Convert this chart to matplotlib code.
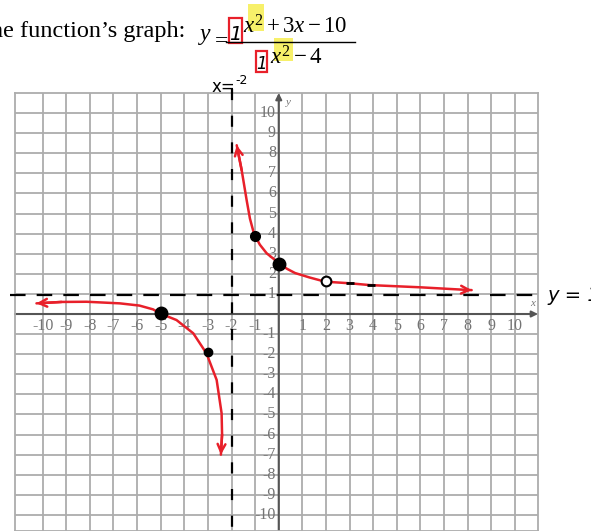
import numpy as np
import matplotlib.pyplot as plt
from matplotlib.patches import Rectangle

plt.rcParams['mathtext.fontset'] = 'custom'
plt.rcParams['mathtext.rm'] = 'Liberation Serif'
plt.rcParams['mathtext.it'] = 'Liberation Serif:italic'

W, H = 591, 531

# hand-drawn branches of y = (x^2+3x-10)/(x^2-4)
right_x = [-1.78, -1.57, -1.36, -1.22, -1.05, -0.8, -0.51, 0.0, 0.35, 0.69, 1.3, 1.96, 3.0, 3.85, 5.98, 7.96, 8.17]
right_y = [8.4, 7.16, 5.67, 4.75, 4.0, 3.45, 3.02, 2.54, 2.25, 2.04, 1.82, 1.61, 1.53, 1.44, 1.33, 1.2, 1.19]
left_x = [-10.26, -9.2, -8.14, -6.73, -5.9, -5.32, -5.03, -4.33, -3.62, -3.06, -2.63, -2.42, -2.4, -2.45]
left_y = [0.53, 0.6, 0.61, 0.53, 0.42, 0.23, 0.03, -0.3, -0.96, -1.96, -3.28, -4.94, -6.0, -7.0]

# plotted points
dot_x = [-5, 0, -1, -3]
dot_y = [0.03, 2.5, 3.9, -1.9]
dot_size = [9, 9, 7, 6]
hole_x, hole_y = 2.0, 1.62
tick_x = [3, 3.9]
tick_y = [1.55, 1.46]

asym_x = -2
asym_y = 1

x_labels = [i for i in range(-10, 11) if i != 0]
y_labels = [i for i in range(-10, 11) if i != 0]

red = '#e8202a'
grey = '#adadad'


def px(x, y):
    return x / W, 1 - y / H


fig = plt.figure(figsize=(W / 100, H / 100), dpi=100)
ax = fig.add_axes([15 / W, 0, (538 - 15) / W, (531 - 93) / H])
ax.set_xlim(-11.17, 10.98)
ax.set_ylim(-10.8, 11.0)

# grid
for i in range(-10, 11):
    ax.axvline(i, color=grey, lw=1.3, zorder=0)
    ax.axhline(i, color=grey, lw=1.3, zorder=0)
for s in ax.spines.values():
    s.set_color(grey)
    s.set_linewidth(1.3)
ax.set_xticks([])
ax.set_yticks([])

# axes with arrows
ax.annotate('', xy=(10.98, 0), xytext=(-11.17, 0),
            arrowprops=dict(arrowstyle='-|>', color='#555555', lw=1.5, mutation_scale=9,
                            shrinkA=0, shrinkB=0), zorder=2)
ax.annotate('', xy=(0, 11.0), xytext=(0, -10.8),
            arrowprops=dict(arrowstyle='-|>', color='#555555', lw=1.5, mutation_scale=9,
                            shrinkA=0, shrinkB=0), zorder=2)
ax.text(0.42, 10.55, 'y', fontsize=8, color='#777777', style='italic',
        family='Liberation Serif', ha='center', va='center')
ax.text(10.75, 0.5, 'x', fontsize=8, color='#777777', style='italic',
        family='Liberation Serif', ha='center', va='center')

for v in x_labels:
    ax.text(v, -0.62, str(v), fontsize=11.5, color='#747474', family='Liberation Serif',
            ha='center', va='center', zorder=3)
for v in y_labels:
    ax.text(-0.12, v, str(v), fontsize=11.5, color='#747474', family='Liberation Serif',
            ha='right', va='center', zorder=3)

# asymptotes
ax.plot([asym_x, asym_x], [11.2, -11], color='black', lw=1.6, ls=(0, (5, 7)),
        clip_on=False, zorder=4)
ax.plot([-11.4, 10.9], [asym_y - 0.07, asym_y - 0.07], color='black', lw=1.6,
        ls=(0, (7, 5)), clip_on=False, zorder=4)

# curve
ax.plot(right_x, right_y, color=red, lw=1.8, zorder=5, solid_capstyle='round')
ax.plot(left_x, left_y, color=red, lw=1.8, zorder=5, solid_capstyle='round')
ends = [((right_x[1], right_y[1]), (right_x[0], right_y[0])),
        ((right_x[-2], right_y[-2]), (right_x[-1], right_y[-1])),
        ((left_x[1], left_y[1]), (left_x[0], left_y[0])),
        ((left_x[-2], left_y[-2]), (left_x[-1], left_y[-1]))]
for a, b in ends:
    ax.annotate('', xy=b, xytext=a,
                arrowprops=dict(arrowstyle='->', color=red, lw=1.8, mutation_scale=14,
                                shrinkA=0, shrinkB=0), zorder=5)

for x, y, s in zip(dot_x, dot_y, dot_size):
    ax.plot(x, y, 'o', color='black', ms=s, zorder=6)
ax.plot(hole_x, hole_y, 'o', mfc='white', mec='black', mew=1.5, ms=7, zorder=6)
ax.plot(tick_x, tick_y, '_', color='black', ms=6, mew=2, zorder=6)

# heading and equation
fig.text(*px(185, 37), 'the function\u2019s graph:', fontsize=17.5, family='Liberation Serif',
         ha='right', va='baseline')
fig.text(*px(200, 40), 'y', fontsize=17, family='Liberation Serif', style='italic',
         ha='left', va='baseline')
fig.text(*px(215, 47), '=', fontsize=17, family='Liberation Serif', ha='left', va='baseline')
fig.add_artist(plt.Line2D([226 / W, 355 / W], [1 - 42 / H, 1 - 42 / H], color='black', lw=1.0))

fig.patches.append(Rectangle(px(248, 31), 16 / W, 27 / H, transform=fig.transFigure,
                             facecolor='#f7f06a', edgecolor='none', zorder=0))
fig.patches.append(Rectangle(px(274, 61), 19 / W, 23 / H, transform=fig.transFigure,
                             facecolor='#f7f06a', edgecolor='none', zorder=0))
fig.text(*px(243, 34), r'$x^2 + 3x - 10$', fontsize=16.5, ha='left', va='baseline')
fig.text(*px(270, 65), r'$x^2 - 4$', fontsize=16.5, ha='left', va='baseline')

fig.patches.append(Rectangle(px(229, 43), 13 / W, 25 / H, transform=fig.transFigure,
                             facecolor='none', edgecolor=red, lw=1.6))
fig.patches.append(Rectangle(px(256, 72), 11 / W, 21 / H, transform=fig.transFigure,
                             facecolor='none', edgecolor=red, lw=1.6))
fig.text(*px(235.5, 40), '1', fontsize=14, family='DejaVu Sans', style='italic',
         ha='center', va='baseline')
fig.text(*px(261.5, 69), '1', fontsize=12, family='DejaVu Sans', style='italic',
         ha='center', va='baseline')

# handwritten notes
fig.text(*px(212, 92), 'x=', fontsize=12, family='DejaVu Sans', ha='left', va='baseline')
fig.text(*px(235, 84), '-2', fontsize=9, family='DejaVu Sans', ha='left', va='baseline')
fig.text(*px(547, 301), 'y = 1', fontsize=14, family='DejaVu Sans', style='italic',
         ha='left', va='baseline')

fig.savefig('out.png', dpi=100)
